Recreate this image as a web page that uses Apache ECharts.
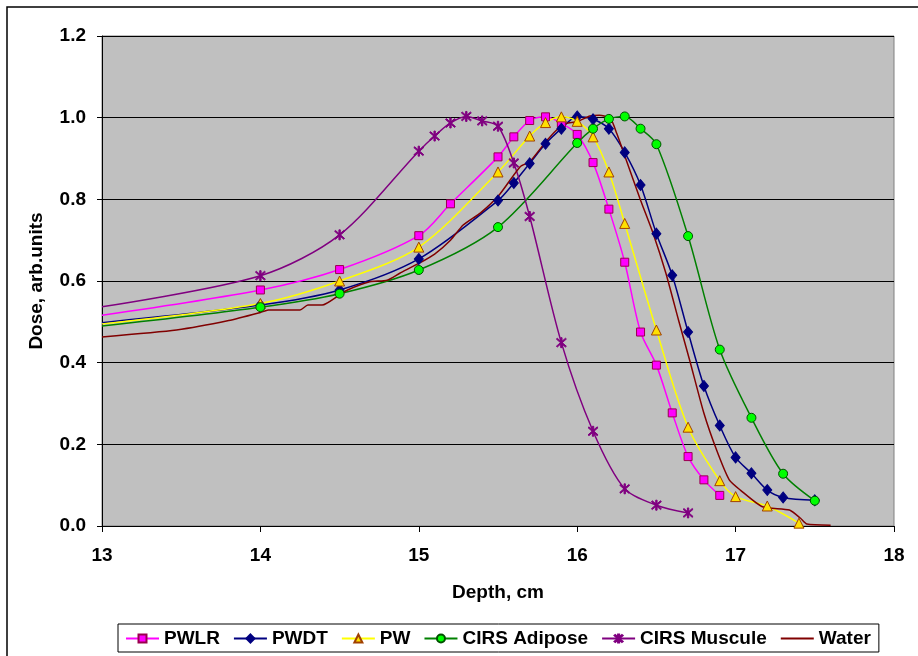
<!DOCTYPE html>
<html>
<head>
<meta charset="utf-8">
<script src="https://cdn.jsdelivr.net/npm/echarts@6/dist/echarts.min.js"></script>
<style>
html,body{margin:0;padding:0;background:#fff;}
#c{width:918px;height:656px;}
</style>
</head>
<body>
<div id="c"></div>
<script>
// ---- data ----
const seriesNames = ['PWLR', 'PWDT', 'PW', 'CIRS Adipose', 'CIRS Muscule', 'Water'];

const pwlrX = [13, 14, 14.5, 15, 15.2, 15.5, 15.6, 15.7, 15.8, 15.9, 16.0, 16.1, 16.2, 16.3, 16.4, 16.5, 16.6, 16.7, 16.8, 16.9];
const pwlrY = [0.516, 0.578, 0.628, 0.711, 0.789, 0.904, 0.953, 0.993, 1.002, 0.986, 0.959, 0.890, 0.776, 0.646, 0.475, 0.394, 0.277, 0.170, 0.113, 0.075];

const pwdtX = [13, 14, 14.5, 15, 15.5, 15.6, 15.7, 15.8, 15.9, 16.0, 16.1, 16.2, 16.3, 16.4, 16.5, 16.6, 16.7, 16.8, 16.9, 17.0, 17.1, 17.2, 17.3, 17.5];
const pwdtY = [0.498, 0.541, 0.578, 0.654, 0.797, 0.840, 0.888, 0.936, 0.973, 1.003, 0.996, 0.973, 0.915, 0.835, 0.716, 0.614, 0.475, 0.343, 0.246, 0.168, 0.129, 0.088, 0.070, 0.063];

const pwX = [13, 14, 14.5, 15, 15.5, 15.7, 15.8, 15.9, 16.0, 16.1, 16.2, 16.3, 16.5, 16.7, 16.9, 17.0, 17.2, 17.4];
const pwY = [0.495, 0.545, 0.600, 0.683, 0.867, 0.955, 0.988, 1.002, 0.991, 0.953, 0.867, 0.741, 0.480, 0.242, 0.111, 0.072, 0.049, 0.007];

const adiposeX = [13, 14, 14.5, 15, 15.5, 16.0, 16.1, 16.2, 16.3, 16.4, 16.5, 16.7, 16.9, 17.1, 17.3, 17.5];
const adiposeY = [0.490, 0.536, 0.569, 0.627, 0.732, 0.938, 0.973, 0.997, 1.003, 0.973, 0.935, 0.710, 0.432, 0.265, 0.128, 0.062];

const muscleX = [13, 14, 14.5, 15, 15.1, 15.2, 15.3, 15.4, 15.5, 15.6, 15.7, 15.9, 16.1, 16.3, 16.5, 16.7];
const muscleY = [0.537, 0.613, 0.713, 0.918, 0.955, 0.987, 1.003, 0.992, 0.979, 0.889, 0.758, 0.449, 0.232, 0.091, 0.051, 0.032];

const waterX = [13, 13.47, 13.8, 14.0, 14.05, 14.25, 14.3, 14.39, 14.5, 14.55, 14.69, 14.8, 14.88, 15.0, 15.1, 15.2, 15.28, 15.39, 15.51, 15.64, 15.7, 15.81, 15.89, 15.93, 16.0, 16.08, 16.14, 16.21, 16.25, 16.31, 16.4, 16.48, 16.56, 16.64, 16.71, 16.8, 16.88, 16.96, 17.03, 17.17, 17.34, 17.41, 17.45, 17.6];
const waterY = [0.463, 0.480, 0.503, 0.523, 0.529, 0.529, 0.541, 0.541, 0.566, 0.578, 0.598, 0.602, 0.619, 0.643, 0.666, 0.700, 0.737, 0.767, 0.812, 0.880, 0.892, 0.945, 0.977, 0.986, 0.990, 1.004, 1.006, 0.998, 0.961, 0.896, 0.798, 0.716, 0.619, 0.504, 0.406, 0.276, 0.186, 0.113, 0.088, 0.047, 0.039, 0.019, 0.005, 0.002];

const xTicks = [13, 14, 15, 16, 17, 18];
const yTicks = [0.0, 0.2, 0.4, 0.6, 0.8, 1.0, 1.2];

// ---- helpers ----
// first point of each marked series is where the curve enters the plot (x = axis min), no marker there
function pts(xs, ys) {
  return xs.map((x, i) => i === 0 ? { value: [x, ys[i]], symbol: 'none' } : [x, ys[i]]);
}
const STAR = 'path://M4.4,0H5.6V10H4.4Z M0.6,1.4L1.4,0.6L9.4,8.6L8.6,9.4Z M8.6,0.6L9.4,1.4L1.4,9.4L0.6,8.6Z';
const FONT = '"Liberation Sans", Arial, sans-serif';

function lineSeries(name, data, color, symbol, size, fill, border, smooth) {
  return {
    name: name, type: 'line', data: data,
    smooth: smooth, symbol: symbol, symbolSize: size, showAllSymbol: true,
    lineStyle: { color: color, width: 1.5 },
    itemStyle: { color: fill, borderColor: border, borderWidth: 1 },
    emphasis: { disabled: true }, z: 2
  };
}

const chart = echarts.init(document.getElementById('c'), null, { renderer: 'canvas' });
chart.setOption({
  animation: false,
  backgroundColor: '#fff',
  textStyle: { fontFamily: FONT },
  graphic: [{
    type: 'rect', shape: { x: 7, y: 7, width: 1000, height: 1000 },
    style: { fill: 'none', stroke: '#000', lineWidth: 1.5 }, z: -10, silent: true
  }],
  grid: {
    left: 102, right: 24, top: 36, bottom: 130,
    show: true, backgroundColor: '#C0C0C0', borderColor: '#808080', borderWidth: 1
  },
  xAxis: {
    type: 'value', min: xTicks[0], max: xTicks[xTicks.length - 1], interval: 1,
    name: 'Depth, cm', nameLocation: 'middle', nameGap: 57,
    nameTextStyle: { fontFamily: FONT, fontWeight: 'bold', fontSize: 19, color: '#000' },
    axisLine: { lineStyle: { color: '#000', width: 1 } },
    axisTick: { show: true, inside: false, length: 6, lineStyle: { color: '#000' } },
    axisLabel: { fontFamily: FONT, fontWeight: 'bold', fontSize: 19, color: '#000', margin: 20 },
    splitLine: { show: false }
  },
  yAxis: {
    type: 'value', min: yTicks[0], max: yTicks[yTicks.length - 1], interval: 0.2,
    name: 'Dose, arb.units', nameLocation: 'middle', nameGap: 56,
    nameTextStyle: { fontFamily: FONT, fontWeight: 'bold', fontSize: 19, color: '#000' },
    axisLine: { show: true, lineStyle: { color: '#000', width: 1 } },
    axisTick: { show: true, inside: false, length: 5, lineStyle: { color: '#000' } },
    axisLabel: { fontFamily: FONT, fontWeight: 'bold', fontSize: 19, color: '#000', margin: 16,
      formatter: v => v.toFixed(1) },
    splitLine: { show: true, lineStyle: { color: '#000', width: 1 } }
  },
  legend: {
    left: 118, top: 624, orient: 'horizontal',
    itemWidth: 33, itemHeight: 10, itemGap: 13,
    padding: [5, 8, 4, 7],
    borderColor: '#000', borderWidth: 1, backgroundColor: '#fff',
    textStyle: { fontFamily: FONT, fontWeight: 'bold', fontSize: 19, color: '#000' },
    data: seriesNames.slice(0, 5).map(n => ({ name: n })).concat([{
      name: seriesNames[5], itemStyle: { color: 'rgba(0,0,0,0)', borderColor: 'rgba(0,0,0,0)' }
    }])
  },
  series: [
    lineSeries(seriesNames[0], pts(pwlrX, pwlrY), '#FF00FF', 'rect', 8, '#FF00FF', '#99004C', 0.3),
    lineSeries(seriesNames[1], pts(pwdtX, pwdtY), '#000080', 'diamond', [9, 11], '#000080', '#000080', 0.3),
    lineSeries(seriesNames[2], pts(pwX, pwY), '#FFFF00', 'triangle', 10, '#FFE000', '#A04000', 0.3),
    lineSeries(seriesNames[3], pts(adiposeX, adiposeY), '#008000', 'circle', 9, '#00FF00', '#005000', 0.3),
    lineSeries(seriesNames[4], pts(muscleX, muscleY), '#800080', STAR, 10, '#800080', '#800080', 0.3),
    {
      name: seriesNames[5], type: 'line', data: waterX.map((x, i) => [x, waterY[i]]),
      smooth: 0.2, symbol: 'none', lineStyle: { color: '#800000', width: 1.5 },
      itemStyle: { color: '#800000' }, emphasis: { disabled: true }, z: 2
    }
  ]
});
</script>
</body>
</html>
